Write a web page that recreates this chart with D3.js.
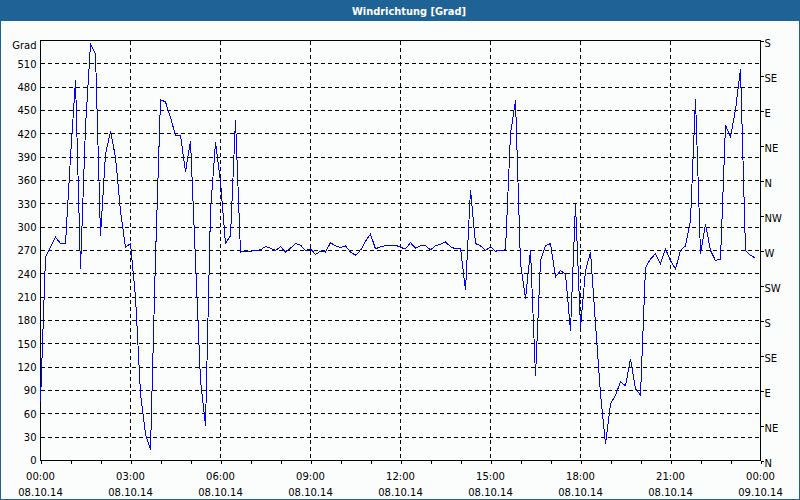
<!DOCTYPE html>
<html>
<head>
<meta charset="utf-8">
<script src="https://cdn.jsdelivr.net/npm/d3@7"></script>
<style>
  body { margin: 0; background: #fbfdfc; }
  svg { display: block; }
  text { font-family: "DejaVu Sans", Verdana, sans-serif; font-size: 10px; fill: #000; }
</style>
</head>
<body>
<svg></svg>
<script>
// wind direction in degrees, one reading every 10 minutes from 08.10.14 00:00
const windDir = [
  75, 262, 274, 287, 279, 279, 390, 489, 246, 429, 535, 523,
  289, 394, 423, 390, 321, 274, 279, 210, 86, 34, 14, 261,
  464, 461, 441, 418, 418, 371, 411, 257, 103, 45, 321, 409,
  358, 279, 289, 438, 268, 269, 269, 270, 271, 275, 273, 270,
  275, 268, 273, 279, 277, 270, 272, 265, 269, 268, 280, 276,
  274, 276, 268, 264, 270, 282, 291, 272, 275, 276, 276, 277,
  274, 272, 280, 273, 276, 276, 271, 276, 278, 281, 275, 272,
  273, 219, 348, 279, 276, 270, 275, 269, 270, 271, 420, 463,
  253, 208, 270, 109, 257, 276, 279, 236, 244, 240, 167, 330,
  171, 244, 268, 176, 86, 21, 73, 84, 101, 96, 131, 92,
  84, 248, 259, 266, 253, 272, 257, 246, 270, 276, 309, 465,
  266, 304, 270, 257, 259, 431, 416, 451, 503, 270, 264, 260
];
const startTime = new Date(2014, 9, 8, 0, 0);
const endTime = new Date(2014, 9, 9, 0, 0);

const degreeTicks = [0, 30, 60, 90, 120, 150, 180, 210, 240, 270, 300, 330, 360, 390, 420, 450, 480, 510];
const compassTicks = [0, 45, 90, 135, 180, 225, 270, 315, 360, 405, 450, 495, 540];
const compassLabels = ["N", "NE", "E", "SE", "S", "SW", "W", "NW", "N", "NE", "E", "SE", "S"];
const hourLabels = ["00:00", "03:00", "06:00", "09:00", "12:00", "15:00", "18:00", "21:00", "00:00"];
const dayLabels = ["08.10.14", "08.10.14", "08.10.14", "08.10.14", "08.10.14", "08.10.14", "08.10.14", "08.10.14", "09.10.14"];

const width = 800;
const height = 500;
const plotLeft = 40.5, plotRight = 760.5, plotTop = 40.5, plotBottom = 460.5;

const svg = d3.select('svg')
    .attr('width', width)
    .attr('height', height);

// frame and title bar
svg.append('rect')
    .attr('x', 0.5).attr('y', 0.5)
    .attr('width', width - 1).attr('height', height - 1)
    .attr('fill', '#fbfdfc')
    .attr('stroke', '#1f6396');
svg.append('rect')
    .attr('x', 0).attr('y', 0)
    .attr('width', width).attr('height', 21)
    .attr('fill', '#1f6396');
svg.append('text')
    .attr('x', 409).attr('y', 15)
    .attr('text-anchor', 'middle')
    .attr('textLength', 114)
    .attr('lengthAdjust', 'spacingAndGlyphs')
    .style('font-weight', 'bold')
    .style('font-size', '11px')
    .style('fill', '#fff')
    .text('Windrichtung [Grad]');

const times = windDir.map((d, i) => d3.timeMinute.offset(startTime, i * 10));

const x = d3.scaleTime()
    .domain([startTime, endTime])
    .range([plotLeft, plotRight]);
const y = d3.scaleLinear()
    .domain([0, 540])
    .range([plotBottom, plotTop]);

const snap = v => Math.round(v - 0.5) + 0.5;

// grid
const grid = svg.append('g')
    .attr('stroke', '#000')
    .attr('stroke-dasharray', '4,3')
    .attr('shape-rendering', 'crispEdges');
grid.selectAll('.hgrid')
  .data(degreeTicks.filter(d => d > 0))
  .enter().append('line')
    .attr('x1', plotLeft).attr('x2', plotRight)
    .attr('y1', d => snap(y(d))).attr('y2', d => snap(y(d)));
grid.selectAll('.vgrid')
  .data(d3.timeHour.every(3).range(startTime, endTime).slice(1))
  .enter().append('line')
    .attr('y1', plotTop).attr('y2', plotBottom)
    .attr('x1', d => snap(x(d))).attr('x2', d => snap(x(d)));

// bottom axis: hourly ticks
svg.append('g')
    .attr('transform', `translate(0, ${plotBottom})`)
    .attr('shape-rendering', 'crispEdges')
    .call(d3.axisBottom(x)
      .ticks(d3.timeHour.every(1))
      .tickSize(3)
      .tickSizeOuter(0)
      .tickFormat(''))
    .call(g => g.select('.domain').remove());

const labelTimes = d3.timeHour.every(3).range(startTime, d3.timeMinute.offset(endTime, 1));
const xl = svg.append('g').attr('text-anchor', 'middle');
xl.selectAll('.hour')
  .data(labelTimes)
  .enter().append('text')
    .attr('x', d => x(d))
    .attr('y', 480)
    .text((d, i) => hourLabels[i]);
xl.selectAll('.day')
  .data(labelTimes)
  .enter().append('text')
    .attr('x', d => x(d))
    .attr('y', 496)
    .text((d, i) => dayLabels[i]);

// left axis
svg.append('g')
    .attr('transform', `translate(${plotLeft}, 0)`)
    .call(d3.axisLeft(y)
      .tickValues(degreeTicks)
      .tickSize(0)
      .tickPadding(4))
    .call(g => g.select('.domain').remove())
    .call(g => g.attr('font-family', null).attr('font-size', null));
svg.append('text')
    .attr('x', 36.5).attr('y', 46)
    .attr('dy', '0.32em')
    .attr('text-anchor', 'end')
    .text('Grad');

// right axis (compass)
svg.append('g')
    .attr('transform', `translate(${plotRight}, 0)`)
    .attr('shape-rendering', 'crispEdges')
    .call(d3.axisRight(y)
      .tickValues(compassTicks)
      .tickSize(3)
      .tickSizeOuter(0)
      .tickPadding(1)
      .tickFormat((d, i) => compassLabels[i]))
    .call(g => g.select('.domain').remove())
    .call(g => g.attr('font-family', null).attr('font-size', null))
    .call(g => g.selectAll('text').attr('dy', '0.55em'));

// plot border
svg.append('rect')
    .attr('x', plotLeft).attr('y', plotTop)
    .attr('width', plotRight - plotLeft).attr('height', plotBottom - plotTop)
    .attr('fill', 'none')
    .attr('stroke', '#000')
    .attr('shape-rendering', 'crispEdges');

// data line
const line = d3.line()
    .x((d, i) => x(times[i]))
    .y(d => y(d));

svg.append('path')
    .datum(windDir)
    .attr('fill', 'none')
    .attr('stroke', '#0000ff')
    .attr('stroke-width', 1)
    .attr('shape-rendering', 'crispEdges')
    .attr('d', line);
</script>
</body>
</html>
